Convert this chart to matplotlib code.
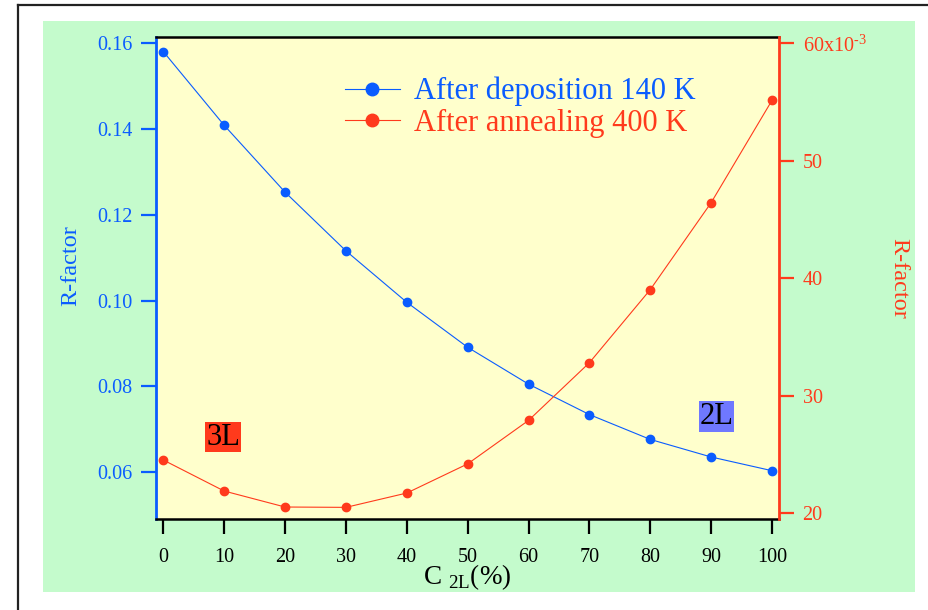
import matplotlib
matplotlib.use("Agg")
import matplotlib.pyplot as plt
from matplotlib.lines import Line2D
from matplotlib.patches import Rectangle
from matplotlib.ticker import FuncFormatter

plt.rcParams['font.family'] = ['Liberation Serif', 'DejaVu Serif']
plt.rcParams['mathtext.fontset'] = 'custom'
plt.rcParams['mathtext.rm'] = 'Liberation Serif'

# concentration of the 2L phase (%)
c2l = [0, 10, 20, 30, 40, 50, 60, 70, 80, 90, 100]
# R-factor after deposition at 140 K (left axis)
r_deposition = [0.1581, 0.1409, 0.1253, 0.1116, 0.0996, 0.0891, 0.0805, 0.0734, 0.0676, 0.0635, 0.0603]
# R-factor after annealing at 400 K (right axis)
r_annealing = [0.02453, 0.02189, 0.02053, 0.02050, 0.02172, 0.02420, 0.02790,
               0.03281, 0.03903, 0.04643, 0.05514]

blue = '#0a5cff'
red = '#ff3a1c'
green_bg = '#c4fbcc'
yellow_bg = '#ffffcc'

fig = plt.figure(figsize=(9.29, 6.10), dpi=100)
fig.patch.set_facecolor('white')

# green panel and the outer frame
fig.add_artist(Rectangle((43 / 929, 1 - 592 / 610), 872 / 929, 571 / 610,
                         transform=fig.transFigure, facecolor=green_bg,
                         edgecolor='none', zorder=0))
fig.add_artist(Line2D([17.5 / 929, 17.5 / 929], [0, 1 - 5 / 610], transform=fig.transFigure,
                      color='#222222', lw=1.6))
fig.add_artist(Line2D([17.5 / 929, 1], [1 - 5 / 610, 1 - 5 / 610], transform=fig.transFigure,
                      color='#222222', lw=1.6))

ax = fig.add_axes([156 / 929, 1 - 519 / 610, 623 / 929, 482 / 610])
ax.set_facecolor(yellow_bg)
ax2 = ax.twinx()

l1, = ax.plot(c2l, r_deposition, '-o', color=blue, lw=0.8, ms=6, mec=blue,
              label='After deposition 140 K')
l2, = ax2.plot(c2l, r_annealing, '-o', color=red, lw=0.8, ms=6, mec=red,
               label='After annealing 400 K')

ax.set_xlim(-1.2, 101.15)
ax.set_ylim(0.04903, 0.1615)
ax2.set_ylim(0.01951, 0.06053)

ax.set_xticks(range(0, 101, 10))
ax.set_yticks([0.06, 0.08, 0.10, 0.12, 0.14, 0.16])
ax.yaxis.set_major_formatter(FuncFormatter(lambda v, p: f'{v:.2f}'))
ax2.set_yticks([0.02, 0.03, 0.04, 0.05, 0.06])


def fmt_right(v, pos):
    n = int(round(v * 1000))
    if n == 60:
        return r'60x10$^{\text{-3}}$'
    return str(n)


ax2.yaxis.set_major_formatter(FuncFormatter(fmt_right))

# spines
for s in ['top', 'bottom']:
    ax.spines[s].set_color('black')
    ax.spines[s].set_linewidth(1.8)
ax.spines['left'].set_color(blue)
ax.spines['left'].set_linewidth(2.0)
ax.spines['right'].set_visible(False)
ax2.spines['left'].set_visible(False)
ax2.spines['top'].set_visible(False)
ax2.spines['bottom'].set_visible(False)
ax2.spines['right'].set_color(red)
ax2.spines['right'].set_linewidth(2.0)

ax.tick_params(axis='x', direction='out', length=11, width=1.6, color='black',
               labelsize=14.5, pad=10, labelcolor='black')
ax.tick_params(axis='y', direction='out', length=11, width=1.6, color=blue,
               labelsize=14.5, pad=6, labelcolor=blue)
ax2.tick_params(axis='y', direction='out', length=11, width=1.6, color=red,
                labelsize=14.5, pad=6, labelcolor=red)

ax.set_ylabel('R-factor', color=blue, fontsize=17.5)
ax.yaxis.set_label_coords((81 - 156) / 623, (519 - 266) / 482)
ax2.set_ylabel('R-factor', color=red, fontsize=17.5, rotation=-90, va='center')
ax2.yaxis.set_label_coords((899 - 156) / 623, (519 - 278) / 482)

ax.set_xlabel(r'C $_{\mathregular{2L}}$(%)', fontsize=19.5)
ax.xaxis.set_label_coords(0.5, -(577 - 519) / 482)
ax.xaxis.label.set_va('center')

# phase labels
ax.text(0.1075, 0.170, '3L', transform=ax.transAxes, fontsize=22, ha='center', va='center',
        bbox=dict(boxstyle='square,pad=0.02', facecolor=red, edgecolor='none'))
ax.text(0.900, 0.2127, '2L', transform=ax.transAxes, fontsize=22, ha='center', va='center',
        bbox=dict(boxstyle='square,pad=0.02', facecolor='#6f78ff', edgecolor='none'))

leg = ax2.legend(handles=[l1, l2], loc='upper left',
                 bbox_to_anchor=((345 - 156) / 623, (519 - 77) / 482),
                 frameon=False, fontsize=22, labelcolor='linecolor',
                 handlelength=1.8, handletextpad=0.45, labelspacing=0.08,
                 markerscale=1.5, borderpad=0, borderaxespad=0)

fig.savefig('out.png', dpi=100)
